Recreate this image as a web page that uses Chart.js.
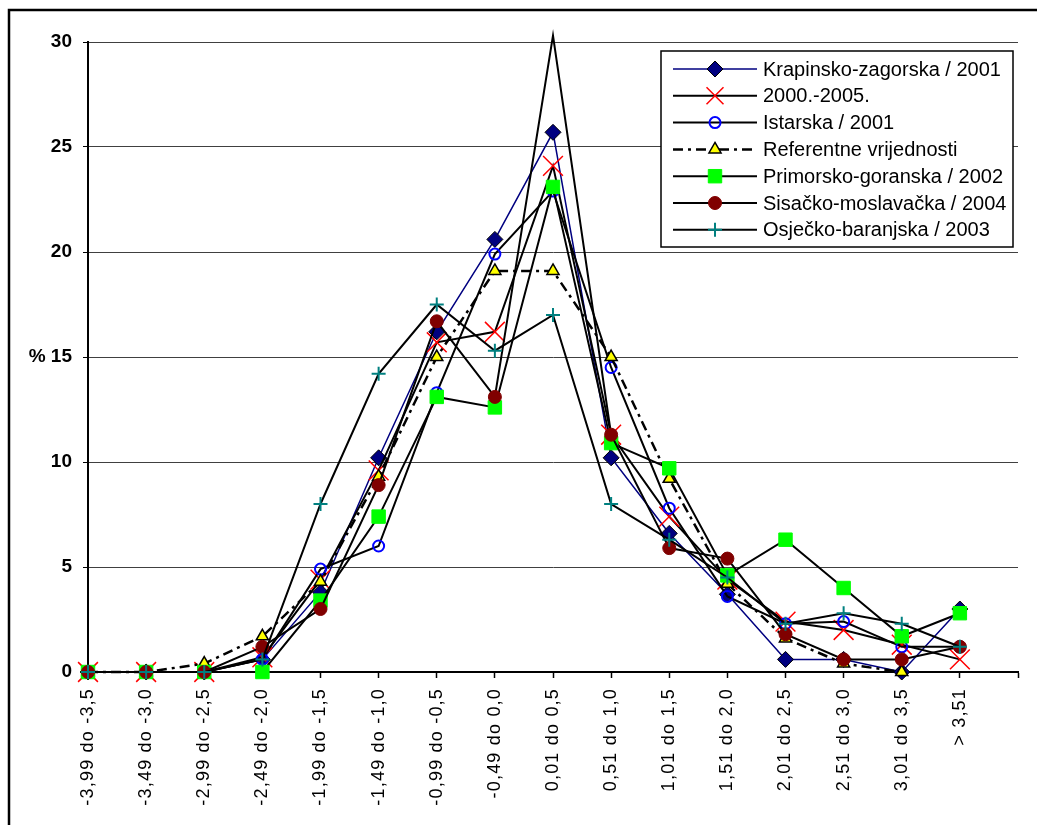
<!DOCTYPE html>
<html lang="hr">
<head>
    <meta charset="UTF-8">
    <title>Raspodjela vrijednosti po razredima</title>
    <script src="https://cdn.jsdelivr.net/npm/chart.js"></script>
    <style>
        body { margin: 0; background: #fff; }
        canvas { display: block; }
    </style>
</head>
<body>
    <canvas id="myChart" width="1037" height="825"></canvas>

    <script>
        // Razredi (kategorije na osi x) - zadnji prazan da os ide do kraja
        const categories = ['-3,99 do -3,5', '-3,49 do -3,0', '-2,99 do -2,5', '-2,49 do -2,0',
            '-1,99 do -1,5', '-1,49 do -1,0', '-0,99 do -0,5', '-0,49 do 0,0', '0,01 do 0,5',
            '0,51 do 1,0', '1,01 do 1,5', '1,51 do 2,0', '2,01 do 2,5', '2,51 do 3,0',
            '3,01 do 3,5', '> 3,51', ''];

        // Vrijednosti (%) procitane sa slike
        const krapinsko = [0, 0, 0, 0.6, 3.8, 10.2, 16.2, 20.6, 25.7, 10.2, 6.6, 3.7, 0.6, 0.6, 0, 3.0];
        const period2000_2005 = [0, 0, 0, 0.7, 4.4, 9.6, 15.7, 16.2, 24.1, 11.3, 7.4, 4.4, 2.4, 2.0, 1.3, 0.6];
        const istarska = [0, 0, 0, 0.6, 4.9, 6.0, 13.3, 19.9, 22.9, 14.5, 7.8, 3.6, 2.3, 2.4, 1.2, 1.2];
        const referentne = [0, 0, 0.4, 1.7, 4.3, 9.3, 15.0, 19.1, 19.1, 15.0, 9.2, 4.2, 1.6, 0.4, 0, null];
        const primorsko = [0, 0, 0, 0, 3.4, 7.4, 13.1, 12.6, 23.1, 10.9, 9.7, 4.6, 6.3, 4.0, 1.7, 2.8];
        const sisacko = [0, 0, 0, 1.2, 3.0, 8.9, 16.7, 13.1, 30.3, 11.3, 5.9, 5.4, 1.8, 0.6, 0.6, 1.2];
        const osijek = [0, 0, 0, 0.6, 8.0, 14.2, 17.5, 15.3, 17.0, 8.0, 6.3, 4.5, 2.3, 2.8, 2.3, 1.2];

        const yTicks = [0, 5, 10, 15, 20, 25, 30];

        const FONT = "'Liberation Sans', Arial, sans-serif";

        // stil serija (redom kao u legendi)
        const series = [
            { label: 'Krapinsko-zagorska / 2001', data: krapinsko, line: '#000080', width: 1.5,
              style: 'rectRot', r: 8, fill: '#000080', stroke: '#000', bw: 1 },
            { label: '2000.-2005.', data: period2000_2005, line: '#000', width: 2,
              style: 'crossRot', r: 14, fill: 'rgba(0,0,0,0)', stroke: '#ff0000', bw: 1.5, lr: 12 },
            { label: 'Istarska / 2001', data: istarska, line: '#000', width: 2,
              style: 'circle', r: 5.5, fill: 'rgba(0,0,0,0)', stroke: '#0000ff', bw: 2 },
            { label: 'Referentne vrijednosti', data: referentne, line: '#000', width: 2.5, dash: [10, 5, 3, 5],
              style: 'triangle', r: 7, fill: '#ffff00', stroke: '#000', bw: 1.5 },
            { label: 'Primorsko-goranska / 2002', data: primorsko, line: '#000', width: 2,
              style: 'rect', r: 9.5, fill: '#00ff00', stroke: '#00ff00', bw: 1 },
            { label: 'Sisačko-moslavačka / 2004', data: sisacko, line: '#000', width: 2,
              style: 'circle', r: 6.5, fill: '#800000', stroke: '#800000', bw: 1 },
            { label: 'Osječko-baranjska / 2003', data: osijek, line: '#000', width: 2,
              style: 'cross', r: 7, fill: 'rgba(0,0,0,0)', stroke: '#008080', bw: 2 }
        ];

        // okvir oko cijelog grafa
        const frame = {
            id: 'frame',
            beforeDraw(chart) {
                const ctx = chart.ctx;
                ctx.save();
                ctx.fillStyle = '#fff';
                ctx.fillRect(0, 0, chart.width, chart.height);
                ctx.strokeStyle = '#000';
                ctx.lineWidth = 2.5;
                ctx.strokeRect(9, 10, chart.width + 20, chart.height + 20);
                ctx.restore();
            },
            // razmaknuta slova samo na oznakama osi x
            afterLayout(chart) {
                const sc = chart.scales.x;
                if (sc._spaced) return;
                const orig = sc.drawLabels.bind(sc);
                sc.drawLabels = (area) => {
                    chart.ctx.letterSpacing = '1.2px';
                    orig(area);
                    chart.ctx.letterSpacing = '0px';
                };
                sc._spaced = true;
            }
        };

        // legenda s linijom i markerom kao u Excelu
        const legendBox = {
            id: 'legendBox',
            afterDraw(chart) {
                const ctx = chart.ctx;
                ctx.save();
                ctx.fillStyle = '#fff';
                ctx.fillRect(661, 51, 352, 196);
                ctx.strokeStyle = '#000';
                ctx.lineWidth = 1.5;
                ctx.strokeRect(661, 51, 352, 196);
                series.forEach((s, i) => {
                    const y = 69 + i * 26.8;
                    ctx.strokeStyle = s.line;
                    ctx.lineWidth = s.width;
                    ctx.setLineDash(s.dash || []);
                    ctx.beginPath();
                    ctx.moveTo(673, y);
                    ctx.lineTo(757, y);
                    ctx.stroke();
                    ctx.setLineDash([]);
                    ctx.fillStyle = s.fill;
                    ctx.strokeStyle = s.stroke;
                    ctx.lineWidth = s.bw;
                    Chart.helpers.drawPoint(ctx, {
                        pointStyle: s.style, radius: s.lr || s.r, rotation: 0, borderWidth: s.bw
                    }, 715, y);
                    ctx.fillStyle = '#000';
                    ctx.font = '20px ' + FONT;
                    ctx.textBaseline = 'middle';
                    ctx.fillText(s.label, 763, y + 1);
                });
                ctx.restore();
            }
        };

        const ctx = document.getElementById('myChart').getContext('2d');
        const myChart = new Chart(ctx, {
            type: 'line',
            data: {
                labels: categories,
                datasets: series.map((s, i) => ({
                    label: s.label,
                    data: s.data,
                    order: series.length - i,
                    borderColor: s.line,
                    borderWidth: s.width,
                    borderDash: s.dash || [],
                    tension: 0,
                    fill: false,
                    spanGaps: false,
                    clip: false,
                    pointStyle: s.style,
                    // tocke iznad 30 se ne vide (odrezane kao u Excelu)
                    pointRadius: (c) => (c.parsed && c.parsed.y > 30 ? 0 : s.r),
                    pointHoverRadius: s.r,
                    pointBackgroundColor: s.fill,
                    pointBorderColor: s.stroke,
                    pointBorderWidth: s.bw
                }))
            },
            options: {
                responsive: false,
                animation: false,
                events: [],
                layout: { padding: { left: 8, top: 42, right: 19, bottom: 0 } },
                plugins: {
                    legend: { display: false },
                    tooltip: { enabled: false }
                },
                scales: {
                    x: {
                        type: 'category',
                        offset: false,
                        grid: {
                            drawOnChartArea: false,
                            drawTicks: true,
                            tickLength: 6,
                            tickColor: '#000',
                            tickWidth: 1.5
                        },
                        border: { color: '#000', width: 2 },
                        ticks: {
                            autoSkip: false,
                            maxRotation: 90,
                            minRotation: 90,
                            padding: 10,
                            color: '#000',
                            font: { family: FONT, size: 18 }
                        },
                        afterFit: (scale) => {
                            scale.height = 153;
                            scale.paddingLeft = 0;
                            scale.paddingRight = 0;
                        }
                    },
                    y: {
                        min: 0,
                        max: 30,
                        afterBuildTicks: (scale) => { scale.ticks = yTicks.map(v => ({ value: v })); },
                        grid: {
                            color: '#404040',
                            lineWidth: 1,
                            drawTicks: true,
                            tickLength: 5,
                            tickColor: '#000'
                        },
                        border: { color: '#000', width: 2 },
                        ticks: {
                            padding: 11,
                            color: '#000',
                            font: { family: FONT, size: 19, weight: 'bold' },
                            callback: (v) => (v === 15 ? '% 15' : String(v))
                        },
                        afterFit: (scale) => {
                            scale.width = 80;
                            scale.paddingTop = 0;
                            scale.paddingBottom = 0;
                        }
                    }
                }
            },
            plugins: [frame, legendBox]
        });
    </script>
</body>
</html>
